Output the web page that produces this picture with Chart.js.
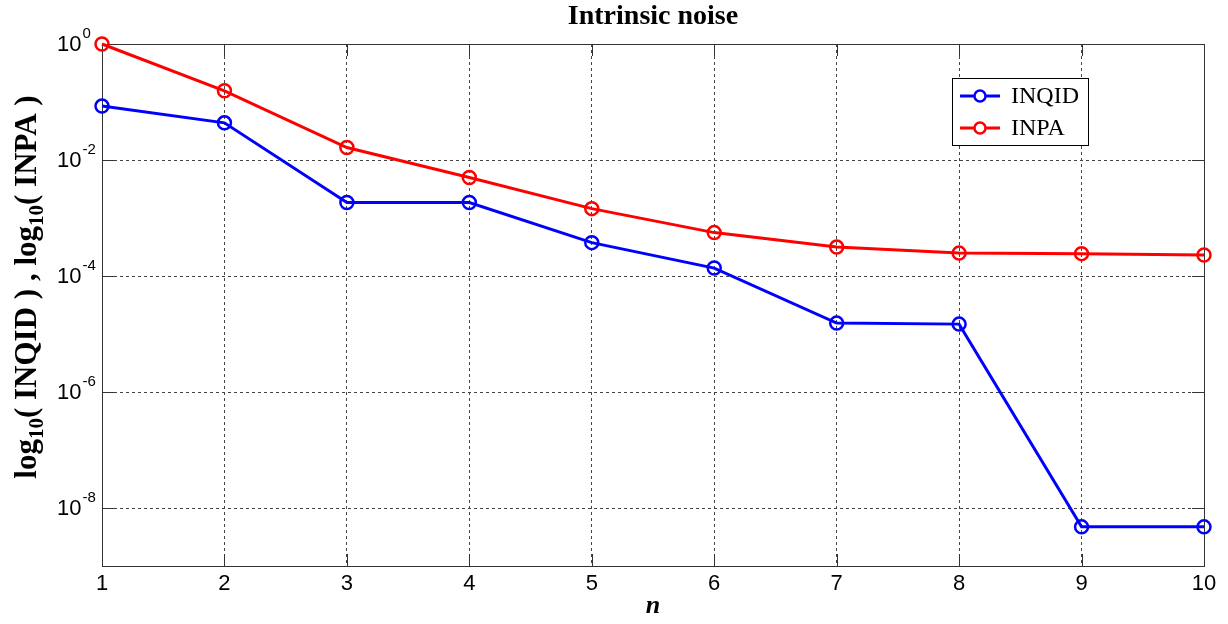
<!DOCTYPE html>
<html>
<head>
<meta charset="utf-8">
<script src="https://cdn.jsdelivr.net/npm/chart.js@4.4.0/dist/chart.umd.min.js"></script>
<style>
  body { margin: 0; background: #fff; }
  #grafica { display: block; }
</style>
</head>
<body>
<canvas id="grafica" width="1228" height="624"></canvas>
<script>
// valores de n y las dos series (escala logaritmica)
const valoresN = [1, 2, 3, 4, 5, 6, 7, 8, 9, 10];
const serieINQID = [0.085, 0.0437, 1.85e-3, 1.85e-3, 3.76e-4, 1.37e-4, 1.54e-5, 1.48e-5, 4.73e-9, 4.73e-9];
const serieINPA = [1.0, 0.156, 0.0164, 0.00499, 0.00145, 5.6e-4, 3.15e-4, 2.48e-4, 2.43e-4, 2.3e-4];
const ticksY = [1, 1e-2, 1e-4, 1e-6, 1e-8];
const exponentesY = ['0', '-2', '-4', '-6', '-8'];
const ticksX = [1, 2, 3, 4, 5, 6, 7, 8, 9, 10];
const titulo = 'Intrinsic noise';

const fuenteSerif = '"Liberation Serif", "Times New Roman", serif';
const fuenteSans = '"Liberation Sans", Arial, sans-serif';

// dibuja titulo, caja, marcas, etiquetas y leyenda al estilo matlab
const pluginEjes = {
    id: 'pluginEjes',
    beforeDatasetsDraw(chart) {
        const ctx = chart.ctx;
        const a = chart.chartArea;
        const sx = chart.scales.x;
        const sy = chart.scales.y;
        ctx.save();
        ctx.strokeStyle = '#333';
        ctx.lineWidth = 1;
        ctx.setLineDash([]);
        ctx.beginPath();
        // marcas hacia dentro
        ticksX.forEach(v => {
            const px = Math.round(sx.getPixelForValue(v)) + 0.5;
            ctx.moveTo(px, a.bottom); ctx.lineTo(px, a.bottom - 12);
            ctx.moveTo(px, a.top); ctx.lineTo(px, a.top + 12);
        });
        ticksY.forEach(v => {
            const py = Math.round(sy.getPixelForValue(v)) + 0.5;
            ctx.moveTo(a.left, py); ctx.lineTo(a.left + 12, py);
            ctx.moveTo(a.right, py); ctx.lineTo(a.right - 12, py);
        });
        ctx.stroke();
        ctx.strokeRect(Math.round(a.left) + 0.5, Math.round(a.top) + 0.5,
            Math.round(a.right - a.left), Math.round(a.bottom - a.top));
        ctx.restore();
    },
    afterDraw(chart) {
        const ctx = chart.ctx;
        const a = chart.chartArea;
        const sx = chart.scales.x;
        const sy = chart.scales.y;
        ctx.save();
        ctx.fillStyle = '#000';

        // titulo
        ctx.font = 'bold 28px ' + fuenteSerif;
        ctx.textAlign = 'center';
        ctx.textBaseline = 'middle';
        ctx.fillText(titulo, (a.left + a.right) / 2, 17);

        // etiquetas del eje x
        ctx.font = '22px ' + fuenteSans;
        ticksX.forEach(v => {
            ctx.fillText(String(v), sx.getPixelForValue(v), a.bottom + 18);
        });
        ctx.font = 'bold italic 26px ' + fuenteSerif;
        ctx.fillText('n', (a.left + a.right) / 2, a.bottom + 40);

        // etiquetas del eje y: 10 con exponente
        ticksY.forEach((v, i) => {
            const py = sy.getPixelForValue(v);
            ctx.textAlign = 'left';
            ctx.font = '22px ' + fuenteSans;
            ctx.fillText('10', 57, py + 1);
            const w = ctx.measureText('10').width;
            ctx.font = '15px ' + fuenteSans;
            ctx.fillText(exponentesY[i], 57 + w + 1, py - 10);
        });

        // titulo del eje y con subindices
        const partes = [
            ['log', false], ['10', true], ['( INQID ) , log', false], ['10', true], ['( INPA )', false]
        ];
        const fNormal = 'bold 31px ' + fuenteSerif;
        const fSub = 'bold 21px ' + fuenteSerif;
        let total = 0;
        partes.forEach(p => { ctx.font = p[1] ? fSub : fNormal; total += ctx.measureText(p[0]).width; });
        ctx.translate(26, 287);
        ctx.rotate(-Math.PI / 2);
        ctx.textAlign = 'left';
        ctx.textBaseline = 'alphabetic';
        let x = -total / 2;
        partes.forEach(p => {
            ctx.font = p[1] ? fSub : fNormal;
            ctx.fillText(p[0], x, p[1] ? 17 : 10);
            x += ctx.measureText(p[0]).width;
        });
        ctx.setTransform(1, 0, 0, 1, 0, 0);

        // leyenda
        const lx = 952, ly = 78, lw = 136, lh = 67;
        ctx.fillStyle = '#fff';
        ctx.fillRect(lx, ly, lw, lh);
        ctx.strokeStyle = '#000';
        ctx.lineWidth = 1;
        ctx.strokeRect(lx + 0.5, ly + 0.5, lw, lh);
        chart.data.datasets.forEach((ds, i) => {
            const yy = 96 + i * 32;
            ctx.strokeStyle = ds.borderColor;
            ctx.lineWidth = 3;
            ctx.beginPath();
            ctx.moveTo(960, yy); ctx.lineTo(1000, yy);
            ctx.stroke();
            ctx.lineWidth = 2.5;
            ctx.beginPath();
            ctx.arc(980, yy, 5.5, 0, Math.PI * 2);
            ctx.fillStyle = '#fff';
            ctx.fill();
            ctx.stroke();
            ctx.fillStyle = '#000';
            ctx.font = '24px ' + fuenteSerif;
            ctx.textBaseline = 'middle';
            ctx.fillText(ds.label, 1011, yy + 1);
        });
        ctx.restore();
    }
};

function serie(etiqueta, valores, color) {
    return {
        label: etiqueta,
        data: valoresN.map((n, i) => ({ x: n, y: valores[i] })),
        borderColor: color,
        backgroundColor: color,
        borderWidth: 3,
        tension: 0,
        pointRadius: 6.5,
        pointBorderWidth: 2.5,
        pointBackgroundColor: 'rgba(255,255,255,0)',
        pointBorderColor: color,
        clip: false
    };
}

const ctx = document.getElementById('grafica').getContext('2d');
const grafica = new Chart(ctx, {
    type: 'line',
    data: {
        datasets: [
            serie('INQID', serieINQID, '#0000ff'),
            serie('INPA', serieINPA, '#ff0000')
        ]
    },
    options: {
        responsive: false,
        animation: false,
        layout: { padding: { top: 44, right: 24, left: 0, bottom: 0 } },
        plugins: {
            legend: { display: false },
            title: { display: false },
            tooltip: { enabled: false }
        },
        scales: {
            x: {
                type: 'linear',
                min: 1,
                max: 10,
                afterBuildTicks: s => { s.ticks = ticksX.map(v => ({ value: v })); },
                afterFit: s => { s.height = 58; },
                ticks: { display: false },
                border: { display: false, dash: [3, 3] },
                grid: { color: '#444', lineWidth: 1, drawTicks: false }
            },
            y: {
                type: 'logarithmic',
                min: 1e-9,
                max: 1,
                afterBuildTicks: s => { s.ticks = ticksY.map(v => ({ value: v })); },
                afterFit: s => { s.width = 102; },
                ticks: { display: false },
                border: { display: false, dash: [3, 3] },
                grid: { color: '#444', lineWidth: 1, drawTicks: false }
            }
        }
    },
    plugins: [pluginEjes]
});
</script>
</body>
</html>
